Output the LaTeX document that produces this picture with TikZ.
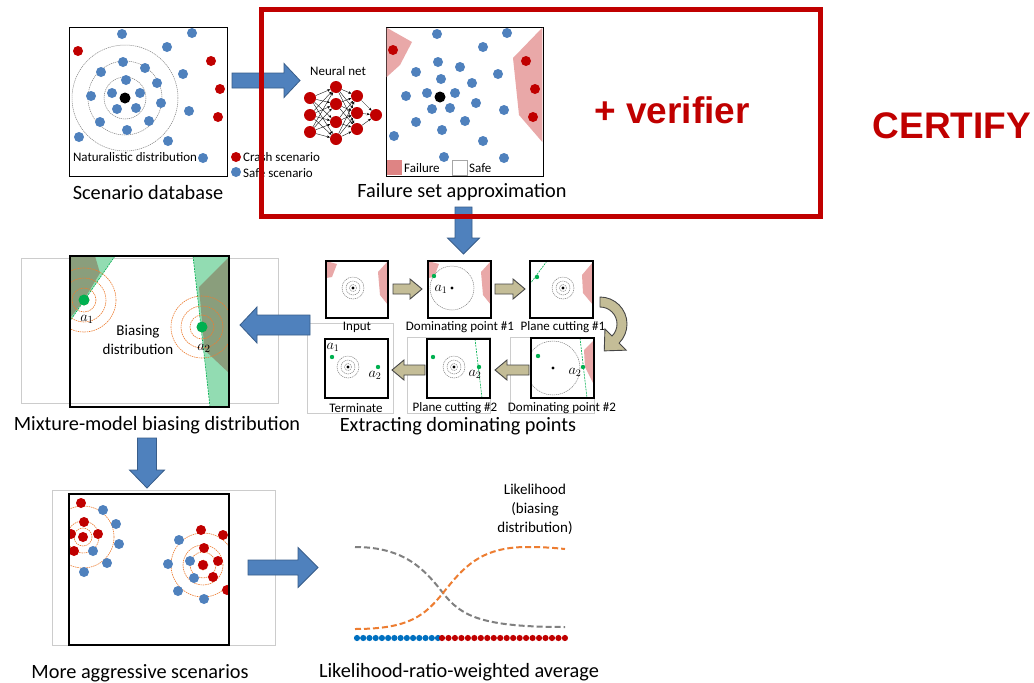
\documentclass[tikz,border=0pt]{standalone}
\usepackage{fontspec}
\setmainfont{Carlito}
\newfontfamily\arialfont{Liberation Sans}
\usetikzlibrary{arrows.meta,calc}
\definecolor{dblue}{RGB}{79,129,189}
\definecolor{dred}{RGB}{192,0,0}
\definecolor{ablue}{RGB}{79,129,189}
\definecolor{aedge}{RGB}{56,93,138}
\definecolor{pinkr}{RGB}{233,168,168}
\definecolor{pinkl}{RGB}{222,132,132}
\definecolor{khaki}{RGB}{196,189,151}
\definecolor{kedge}{RGB}{70,70,70}
\definecolor{gdot}{RGB}{0,176,80}
\definecolor{lgreen}{RGB}{146,220,178}
\definecolor{dgreen}{RGB}{138,158,124}
\definecolor{orng}{RGB}{237,125,49}
\definecolor{cblue}{RGB}{0,112,192}
\tikzset{
 box/.style={draw=black, line width=1.3pt},
 frame/.style={draw=black!20, line width=0.7pt},
 ttl/.style={font=\fontsize{20.3}{23}\selectfont, inner sep=0pt},
 lbl/.style={font=\fontsize{13}{15}\selectfont, inner sep=0pt},
 mlbl/.style={font=\fontsize{14}{16}\selectfont, inner sep=0pt},
 nn/.style={circle, fill=dred, minimum size=12pt, inner sep=0pt},
 nnedge/.style={line width=0.35pt, -{Stealth[length=3pt,width=2.5pt]}},
 blueA/.style={fill=ablue, draw=aedge, line width=0.8pt},
 khakiA/.style={fill=khaki, draw=kedge, line width=0.9pt},
 ring/.style={draw=gray, dash pattern=on 1.2pt off 0.8pt, line width=0.5pt},
 oring/.style={draw=orng, dash pattern=on 1.5pt off 0.8pt, line width=0.6pt},
 gcut/.style={draw=gdot, dash pattern=on 2pt off 1pt, line width=0.6pt},
 curve/.style={line width=2pt, dash pattern=on 6pt off 3pt},
 pics/barrow/.style args={#1/#2/#3/#4}{code={
   \path[pic actions] (0,-#2) -- ({#1-#4},-#2) -- ({#1-#4},-#3) -- (#1,0) -- ({#1-#4},#3) -- ({#1-#4},#2) -- (0,#2) -- cycle;
 }},
}
\begin{document}
\begin{tikzpicture}[x=1pt,y=-1pt]
\useasboundingbox (0,0) rectangle (1034,683);
\fill[white] (0,0) rectangle (1034,683);

% faint image frames
\draw[frame] (21,258) rectangle (278,403);
\draw[frame] (52,490) rectangle (275,645);
\draw[frame] (307,323) rectangle (393,413);
\draw[frame] (407,337) rectangle (490,413);
\draw[frame] (510,337) rectangle (594,413);

% ---------- Panel 1: scenario database
\node[box, minimum width=158pt, minimum height=149pt, anchor=north west, inner sep=0pt] (db) at (69,27) {};
\foreach \r in {21,37,53} \draw[ring] (125,98) circle[radius=\r];
\foreach \p in {(122,34),(192,33),(167,47),(123,62),(101,72),(145,68),(183,74),(126,80),(157,83),(91,96),(112,93),(140,93),(117,109),(136,108),(161,103),(189,111),(100,122),(149,121),(127,130),(79,137),(168,141),(203,158)}
  \fill[dblue] \p circle[radius=5];
\foreach \p in {(78,51),(211,61),(220,89),(218,117)}
  \fill[dred] \p circle[radius=5];
\fill[black] (125,98) circle[radius=5.5];
\node[lbl] (nat) at (135,157) {Naturalistic distribution};
\fill[dred] (236,157) circle[radius=5];
\fill[dblue] (236,172) circle[radius=5];
\node[lbl, anchor=west] (crash) at (243,157) {Crash scenario};
\node[lbl, anchor=west] (safe) at (243,173) {Safe scenario};
\node[ttl] (t1) at (148,193) {Scenario database};

% ---------- Neural net
\node[lbl] (nnl) at (338,71) {Neural net};
\node[nn] (a1) at (310,98) {};
\node[nn] (a2) at (310,115) {};
\node[nn] (a3) at (310,132) {};
\node[nn] (b1) at (336,87) {};
\node[nn] (b2) at (336,104) {};
\node[nn] (b3) at (336,122) {};
\node[nn] (b4) at (336,139) {};
\node[nn] (c1) at (357,96) {};
\node[nn] (c2) at (357,113) {};
\node[nn] (c3) at (357,129) {};
\node[nn] (d1) at (376,115) {};
\foreach \i in {1,2,3} \foreach \j in {1,2,3,4} \draw[nnedge] (a\i) -- (b\j);
\foreach \i in {1,2,3,4} \foreach \j in {1,2,3} \draw[nnedge] (b\i) -- (c\j);
\foreach \i in {1,2,3} \draw[nnedge] (c\i) -- (d1);

% ---------- Panel 2: failure set
\node[box, minimum width=157pt, minimum height=149pt, anchor=north west, inner sep=0pt] (fs) at (386,27) {};
\fill[pinkr] (386.7,27.7) -- (412,42) -- (400,65) -- (386.7,77) -- cycle;
\fill[pinkr] (542.3,27.7) -- (513,58) -- (519,115) -- (542.3,142) -- cycle;
\foreach \p in {(437,34),(507,33),(483,47),(438,62),(460,67),(416,72),(498,74),(441,79),(472,83),(406,96),(427,93),(455,93),(432,109),(450,108),(476,103),(504,110),(416,122),(465,121),(442,130),(394,136),(483,141),(444,157),(504,158)}
  \fill[dblue] \p circle[radius=5];
\foreach \p in {(393,50),(526,61),(535,89),(533,117)}
  \fill[dred] \p circle[radius=5];
\fill[black] (440,97) circle[radius=5.5];
\fill[pinkl] (387,160) rectangle (402,175);
\node[lbl, anchor=west] (fl) at (404,168) {Failure};
\draw[black!35, line width=0.6pt, fill=white] (452,160) rectangle (467,175);
\node[lbl, anchor=west] (sl) at (469,168) {Safe};
\node[ttl] (t2) at (462,192) {Failure set approximation};

% blue arrows (top)
\pic[blueA] at (232,80.5) {barrow=68/7.5/17/16};
\pic[blueA, rotate=-90] at (463.5,207) {barrow=47/8.5/16/16};

% verifier box
\draw[dred, line width=5pt] (261.5,9.5) rectangle (820.5,216.5);
\node[inner sep=0pt, text=dred, font=\arialfont\bfseries\fontsize{37}{40}\selectfont] (ver) at (672,110) {+ verifier};
\node[inner sep=0pt, text=dred, font=\arialfont\bfseries\fontsize{37}{40}\selectfont] (cert) at (952,126) {CERTIFY};

% ---------- Extracting dominating points
% Input
\begin{scope}[shift={(326,261)}]
  \fill[pinkr] (0,0) -- (11,3) -- (6,16) -- (0,17) -- cycle;
  \fill[pinkr] (62,0) -- (52,11) -- (54,34) -- (62,44) -- cycle;
  \foreach \r in {3.5,7,11} \draw[ring] (27,27) circle[radius=\r];
  \fill (27,27) circle[radius=1.6];
  \draw[box] (0,0) rectangle (62,57);
\end{scope}
\node[lbl] (lin) at (357,327) {Input};
% Dominating point 1
\begin{scope}[shift={(428,261)}]
  \fill[pinkr] (0,0) -- (11,3) -- (6,16) -- (0,17) -- cycle;
  \fill[pinkr] (63,0) -- (53,11) -- (55,34) -- (63,44) -- cycle;
  \draw[ring] (24,27) circle[radius=22];
  \fill (24,27) circle[radius=1.6];
  \fill[gdot] (6,15) circle[radius=2.2];
  \node[mlbl] at (13,28) {$a_1$};
  \draw[box] (0,0) rectangle (63,57);
\end{scope}
\node[lbl] (ld1) at (460,327) {Dominating point \#1};
% Plane cutting 1
\begin{scope}[shift={(530,261)}]
  \fill[pinkr] (63,1) -- (52,14) -- (53,32) -- (63,44) -- cycle;
  \foreach \r in {3.5,7,11} \draw[ring] (33,27) circle[radius=\r];
  \fill (33,27) circle[radius=1.6];
  \draw[gcut] (17,0) -- (0,23);
  \fill[gdot] (7,16) circle[radius=2.2];
  \draw[box] (0,0) rectangle (63,57);
\end{scope}
\node[lbl] (lp1) at (563,327) {Plane cutting \#1};
% Dominating point 2
\begin{scope}[shift={(531,338)}]
  \begin{scope}
    \clip (0,0) rectangle (63,60);
    \fill[pinkr] (63,2) -- (53,12) -- (54,29) -- (63,47) -- cycle;
    \draw[ring] (22,30) circle[radius=27];
    \draw[gcut] (49,0) -- (56,60);
  \end{scope}
  \fill (22,30) circle[radius=1.6];
  \fill[gdot] (7,18) circle[radius=2.2];
  \fill[gdot] (52,29) circle[radius=2.2];
  \node[mlbl] at (44,34) {$a_2$};
  \draw[box] (0,0) rectangle (63,60);
\end{scope}
\node[lbl] (ld2) at (562,408) {Dominating point \#2};
% Plane cutting 2
\begin{scope}[shift={(427,339)}]
  \foreach \r in {3.5,7,11} \draw[ring] (27,28) circle[radius=\r];
  \fill (27,28) circle[radius=1.6];
  \draw[gcut] (48,0) -- (55,59);
  \fill[gdot] (6,18) circle[radius=2.2];
  \fill[gdot] (52,28) circle[radius=2.2];
  \node[mlbl] at (48,35) {$a_2$};
  \draw[box] (0,0) rectangle (63,59);
\end{scope}
\node[lbl] (lp2) at (455,408) {Plane cutting \#2};
% Terminate
\begin{scope}[shift={(325,339)}]
  \foreach \r in {3.5,7,11} \draw[ring] (23,28) circle[radius=\r];
  \fill (23,28) circle[radius=1.6];
  \fill[gdot] (7,18) circle[radius=2.2];
  \fill[gdot] (53,28) circle[radius=2.2];
  \node[mlbl] at (8,8) {$a_1$};
  \node[mlbl] at (50,36) {$a_2$};
  \draw[box] (0,0) rectangle (63,59);
\end{scope}
\node[lbl] (lt) at (356,408) {Terminate};
\node[ttl] (t3) at (458,426) {Extracting dominating points};

% khaki arrows
\pic[khakiA] at (393,289) {barrow=29/5/10/12};
\pic[khakiA] at (495,289) {barrow=30/5/10/12};
\pic[khakiA, rotate=180] at (529,370) {barrow=34/5/10/12};
\pic[khakiA, rotate=180] at (425,370) {barrow=33/5/10/12};
\coordinate (cc) at (600,324);
\draw[khakiA] ($(cc)+(-90:27)$) arc[start angle=-90, end angle=45, radius=27]
   -- ($(cc)+(45:37)$) -- ($(cc)+(45:22)+(135:16)$) -- ($(cc)+(45:7)$) -- ($(cc)+(45:17)$)
   arc[start angle=45, end angle=-90, radius=17] -- cycle;

% blue arrow to mixture
\pic[blueA, rotate=180] at (310,325) {barrow=70/10/18/17};

% ---------- Mixture model
\begin{scope}
  \clip (70,256) rectangle (229,407);
  \fill[lgreen] (70,256) -- (115,256) -- (70,321) -- cycle;
  \fill[dgreen] (70,256) -- (95,256) -- (100,273) -- (82,303) -- (70,318) -- cycle;
  \fill[lgreen] (193,256) -- (229,256) -- (229,407) -- (210,407) -- cycle;
  \fill[dgreen] (229,257) -- (199,287) -- (204.5,350) -- (229,373) -- cycle;
  \draw[gcut] (115,256) -- (70,321);
  \draw[gcut] (193,256) -- (210,407);
  \foreach \r in {5,12,22,32} \draw[oring] (84,300) circle[radius=\r];
  \foreach \r in {5,12,21,31} \draw[oring] (202,327) circle[radius=\r];
\end{scope}
\fill[gdot] (84,300) circle[radius=5.5];
\fill[gdot] (202,327) circle[radius=5.5];
\node[font=\fontsize{15}{17}\selectfont, inner sep=0pt] at (87,319) {$a_1$};
\node[font=\fontsize{15}{17}\selectfont, inner sep=0pt] at (204,348) {$a_2$};
\node[font=\fontsize{15}{19}\selectfont, align=center, inner sep=0pt] (bias) at (138,340) {Biasing\\distribution};
\draw[box] (70,256) rectangle (229,407);
\node[ttl] (t4) at (157,425) {Mixture-model biasing distribution};

% blue arrow down
\pic[blueA, rotate=-90] at (147,438) {barrow=50/9.5/17.5/18};

% ---------- More aggressive scenarios
\begin{scope}
  \clip (69,494) rectangle (229,645);
  \foreach \r in {4,9,16,31} \draw[oring] (83,537) circle[radius=\r];
  \foreach \r in {5,13,20,32} \draw[oring] (203,565) circle[radius=\r];
  \foreach \p in {(103,510),(116,524),(119,544),(93,551),(107,563),(84,572),
                  (179,540),(190,561),(168,564),(194,578),(178,591),(204,599)}
    \fill[dblue] \p circle[radius=5];
  \foreach \p in {(81,503),(84,522),(71,534),(83,537),(98,534),(74,551),
                  (201,530),(223,535),(204,548),(218,561),(203,565),(213,577),(227,590)}
    \fill[dred] \p circle[radius=5];
\end{scope}
\draw[box] (69,494) rectangle (229,645);
\node[ttl] (t5) at (140,673) {More aggressive scenarios};

% blue arrow right
\pic[blueA] at (248,567.5) {barrow=70/7.5/20/20};

% ---------- Likelihood chart
\draw[curve, gray] (355,547) .. controls (405,547) and (425,570) .. (443,593)
                  .. controls (461,616) and (481,627) .. (565,627);
\draw[curve, orng] (355,629) .. controls (410,629) and (425,615) .. (443,593)
                  .. controls (463,568) and (480,547) .. (527,547)
                  .. controls (545,547) and (555,548) .. (565,549);
\foreach \i in {0,...,13} \fill[cblue] ({357+6.23*\i},638) circle[radius=3.1];
\foreach \i in {0,...,19} \fill[dred] ({442+6.47*\i},638) circle[radius=3.1];
\node[font=\fontsize{15}{19}\selectfont, align=center, inner sep=0pt] (lik) at (535,509) {Likelihood\\(biasing\\distribution)};
\node[ttl] (t6) at (459,672) {Likelihood-ratio-weighted average};
\end{tikzpicture}
\end{document}
